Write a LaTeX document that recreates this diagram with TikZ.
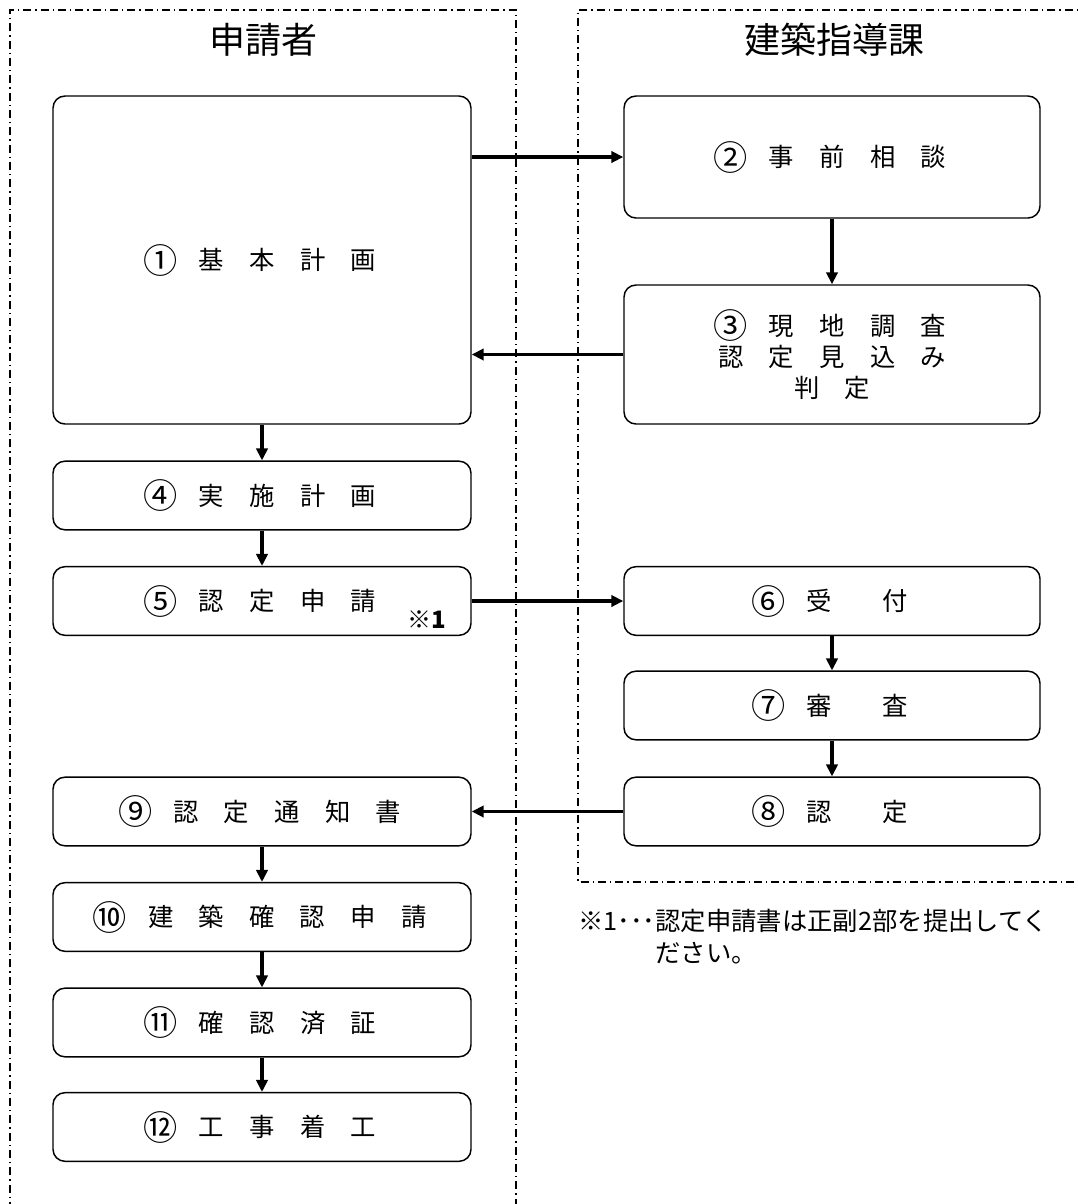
\documentclass[tikz,border=0pt]{standalone}
\usepackage{fontspec}
\usepackage{graphicx}
\setmainfont{Noto Sans CJK JP}
\usetikzlibrary{arrows.meta}
\newcommand\cnum[1]{\makebox[1em][c]{\raisebox{-0.12em}{\scalebox{1.35}{#1}}}}
\tikzset{
  procbox/.style={draw, rounded corners=9pt, line width=1.1pt, inner sep=0pt,
    align=center, font=\fontsize{19}{23.5}\selectfont},
  wide/.style={procbox, minimum width=313.5pt},
  narrow/.style={procbox, minimum width=312pt},
  flow/.style={line width=2.3pt, -{Triangle[length=9pt,width=8.5pt]}},
  frame/.style={line width=0.8pt, dash pattern=on 6pt off 3pt on 1pt off 3pt},
  title/.style={font=\fontsize{27}{32}\selectfont}
}
\begin{document}
\begin{tikzpicture}[x=0.75pt,y=-0.75pt]
       \useasboundingbox (0,0) rectangle (1078,1204);
       \draw[frame] (10,1210) -- (10,10) -- (516,10) -- (516,1210);
       \draw[frame] (1090,10) -- (578,10) -- (578,882) -- (1090,882);
       \node[title] (who) at (263,40) {申請者};
       \node[title] (dept) at (834,40) {建築指導課};
       \node[wide, minimum height=246pt] (p1) at (262,260) {\cnum{①}　基　本　計　画};
       \node[narrow, minimum height=91.5pt] (p2) at (832,157) {\cnum{②}　事　前　相　談};
       \node[narrow, minimum height=104.25pt] (p3) at (832,354.5) {\cnum{③}　現　地　調　査\\認　定　見　込　み\\判　定};
       \node[wide, minimum height=51.5pt] (p4) at (262,495.5) {\cnum{④}　実　施　計　画};
       \node[wide, minimum height=51.5pt] (p5) at (262,601) {\cnum{⑤}　認　定　申　請};
       \node[font=\bfseries\fontsize{18}{20}\selectfont] (mark) at (427,620) {※1};
       \node[narrow, minimum height=51.5pt] (p6) at (832,601) {\cnum{⑥}　受　　付};
       \node[narrow, minimum height=51.5pt] (p7) at (832,705.5) {\cnum{⑦}　審　　査};
       \node[narrow, minimum height=51.5pt] (p8) at (832,811.5) {\cnum{⑧}　認　　定};
       \node[wide, minimum height=51.5pt] (p9) at (262,811.5) {\cnum{⑨}　認　定　通　知　書};
       \node[wide, minimum height=51.5pt] (p10) at (262,917) {\cnum{⑩}　建　築　確　認　申　請};
       \node[wide, minimum height=51.5pt] (p11) at (262,1022.5) {\cnum{⑪}　確　認　済　証};
       \node[wide, minimum height=51.5pt] (p12) at (262,1127) {\cnum{⑫}　工　事　着　工};
       \node[anchor=base west, inner sep=0pt, font=\fontsize{19}{24}\selectfont] (note) at (578,930)
         {\begin{tabular}[t]{@{}l@{}l@{}}※1･･･&認定申請書は正副2部を提出してく\\&ださい。\end{tabular}};
       \draw[flow] (p1.east |- p2.west) -- (p2.west);
       \draw[flow] (p2) -- (p3);
       \draw[flow] (p3.west) -- (p3.west -| p1.east);
       \draw[flow] (p1) -- (p4);
       \draw[flow] (p4) -- (p5);
       \draw[flow] (p5) -- (p6);
       \draw[flow] (p6) -- (p7);
       \draw[flow] (p7) -- (p8);
       \draw[flow] (p8) -- (p9);
       \draw[flow] (p9) -- (p10);
       \draw[flow] (p10) -- (p11);
       \draw[flow] (p11) -- (p12);
\end{tikzpicture}
\end{document}
